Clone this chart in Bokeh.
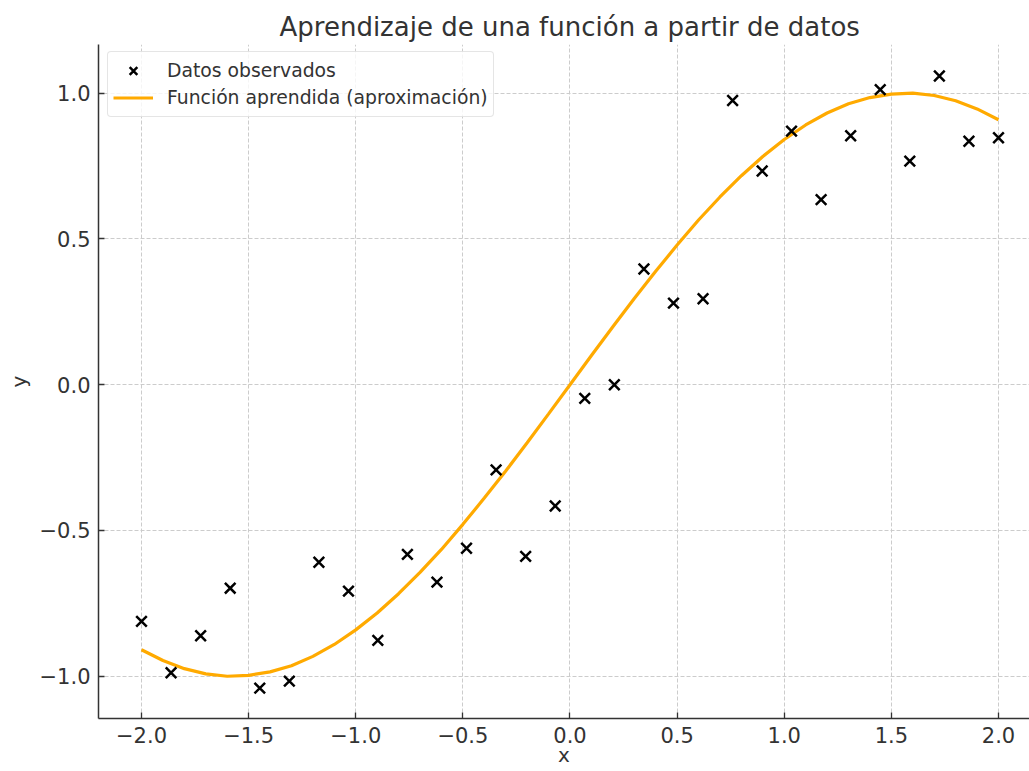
from bokeh.plotting import figure
from bokeh.models import (Range1d, FixedTicker, CustomJSTickFormatter,
                          Legend, LegendItem)
from bokeh.embed import file_html
from bokeh.resources import INLINE

# ---------------- data ----------------
title_text = "Aprendizaje de una función a partir de datos"
x_label = "x"
y_label = "y"
points_name = "Datos observados"
curve_name = "Función aprendida (aproximación)"

obs_x = [-2.000, -1.862, -1.724, -1.586, -1.448, -1.310, -1.172, -1.034,
         -0.897, -0.759, -0.621, -0.483, -0.345, -0.207, -0.069, 0.069,
         0.207, 0.345, 0.483, 0.621, 0.759, 0.897, 1.034, 1.172, 1.310,
         1.448, 1.586, 1.724, 1.862, 2.000]
obs_y = [-0.812, -0.988, -0.861, -0.698, -1.041, -1.017, -0.609, -0.708,
         -0.877, -0.582, -0.677, -0.561, -0.292, -0.589, -0.416, -0.047,
         0.000, 0.397, 0.280, 0.295, 0.975, 0.733, 0.870, 0.635, 0.854,
         1.012, 0.767, 1.059, 0.835, 0.847]

curve_x = [-2.0, -1.9, -1.8, -1.7, -1.6, -1.5, -1.4, -1.3, -1.2, -1.1,
           -1.0, -0.9, -0.8, -0.7, -0.6, -0.5, -0.4, -0.3, -0.2, -0.1,
           0.0, 0.1, 0.2, 0.3, 0.4, 0.5, 0.6, 0.7, 0.8, 0.9,
           1.0, 1.1, 1.2, 1.3, 1.4, 1.5, 1.6, 1.7, 1.8, 1.9, 2.0]
curve_y = [-0.909, -0.946, -0.974, -0.992, -1.000, -0.997, -0.985, -0.964,
           -0.932, -0.891, -0.841, -0.783, -0.717, -0.644, -0.565, -0.479,
           -0.389, -0.296, -0.199, -0.100, 0.000, 0.100, 0.199, 0.296,
           0.389, 0.479, 0.565, 0.644, 0.717, 0.783, 0.841, 0.891, 0.932,
           0.964, 0.985, 0.997, 1.000, 0.992, 0.974, 0.946, 0.909]

x_ticks = [-2.0, -1.5, -1.0, -0.5, 0.0, 0.5, 1.0, 1.5, 2.0]
y_ticks = [-1.0, -0.5, 0.0, 0.5, 1.0]

# ---------------- figure ----------------
FONT = "DejaVu Sans"
TXT = "#333333"

p = figure(width=1029, height=771, output_backend="svg", toolbar_location=None,
           x_range=Range1d(-2.2007, 2.1447), y_range=Range1d(-1.145, 1.167),
           min_border_left=98, min_border_right=0, min_border_top=44,
           min_border_bottom=53)
p.outline_line_color = None
p.background_fill_color = "white"
p.border_fill_color = "white"

p.title.text = title_text
p.title.align = "left"
p.title.offset = 181
p.title.standoff = 5
p.title.text_font = FONT
p.title.text_font_size = "26px"
p.title.text_font_style = "normal"
p.title.text_color = TXT

fmt_code = "return (tick < 0 ? '\u2212' : '') + Math.abs(tick).toFixed(1);"
for ax, ticks, lab in ((p.xaxis[0], x_ticks, x_label),
                       (p.yaxis[0], y_ticks, y_label)):
    ax.ticker = FixedTicker(ticks=ticks)
    ax.formatter = CustomJSTickFormatter(code=fmt_code)
    ax.major_tick_in = 6
    ax.major_tick_out = 0
    ax.minor_tick_line_color = None
    ax.axis_line_color = TXT
    ax.axis_line_width = 1.5
    ax.major_tick_line_color = TXT
    ax.major_tick_line_width = 1.3
    ax.major_label_text_font = FONT
    ax.major_label_text_font_size = "21px"
    ax.major_label_text_color = TXT
    ax.axis_label = lab
    ax.axis_label_text_font = FONT
    ax.axis_label_text_font_size = "20px"
    ax.axis_label_text_font_style = "normal"
    ax.axis_label_text_color = TXT
p.xaxis.major_label_standoff = 8
p.yaxis.major_label_standoff = 8
p.xaxis.axis_label_standoff = -3
p.yaxis.axis_label_standoff = 6

for g in (p.xgrid[0], p.ygrid[0]):
    g.grid_line_color = "#cccccc"
    g.grid_line_dash = "4 2"
    g.grid_line_width = 1

ln = p.line(curve_x, curve_y, line_color="#FFAA00", line_width=3.2)
sc = p.scatter(obs_x, obs_y, marker="x", size=15, line_color="black",
               line_width=2.5)

legend = Legend(items=[LegendItem(label=points_name, renderers=[sc]),
                       LegendItem(label=curve_name, renderers=[ln])],
                location=(9, 601), margin=0, padding=5, spacing=0,
                glyph_width=40, glyph_height=27, label_height=27,
                label_standoff=14, label_text_font=FONT,
                label_text_font_size="18.8px", label_text_color=TXT,
                border_line_color="#cccccc", border_line_width=1,
                background_fill_color="white", background_fill_alpha=0.8)
try:
    legend.border_radius = 4
except Exception:
    pass
p.add_layout(legend)

open("out.html", "w").write(file_html(p, INLINE))
